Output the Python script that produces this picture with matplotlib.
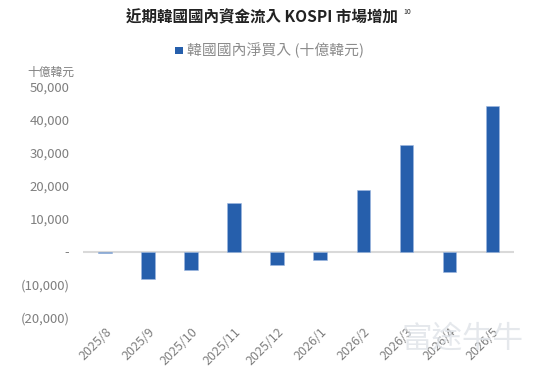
import matplotlib
matplotlib.use("Agg")
import matplotlib.pyplot as plt
from matplotlib.patches import Rectangle

plt.rcParams['font.family'] = ['Noto Sans CJK TC', 'DejaVu Sans']

# data (十億韓元)
months = ['2025/8', '2025/9', '2025/10', '2025/11', '2025/12',
          '2026/1', '2026/2', '2026/3', '2026/4', '2026/5']
net_buy = [-400, -8200, -5500, 14800, -4000, -2700, 18800, 32300, -6200, 44200]
y_ticks = [-20000, -10000, 0, 10000, 20000, 30000, 40000, 50000]

bar_color = '#265FAC'
text_gray = '#7f7f7f'


def fmt(v):
    if v == 0:
        return '-'
    if v < 0:
        return '({:,})'.format(-v)
    return '{:,}'.format(v)


fig = plt.figure(figsize=(5.41, 3.81), dpi=100)
ax = fig.add_axes([0.154, 0.167, 0.796, 0.605])

x = range(len(months))
ax.bar(x, net_buy, width=0.31, color=bar_color, edgecolor='#9db8e0',
       linewidth=0.4, zorder=3)
ax.axhline(0, color='#d9d9d9', linewidth=1.5, zorder=2)

ax.set_xlim(-0.5, len(months) - 0.5)
ax.set_ylim(-20000, 50000)
ax.set_yticks(y_ticks)
ax.set_yticklabels([fmt(v) for v in y_ticks], color=text_gray, fontsize=9.5)
ax.set_xticks(list(x))
ax.set_xticklabels(months, rotation=45, ha='right', rotation_mode='anchor',
                   color=text_gray, fontsize=9)
ax.tick_params(axis='y', length=0, pad=10)
ax.tick_params(axis='x', length=0, pad=6)
for s in ax.spines.values():
    s.set_visible(False)

fig.text(0.485, 0.955, '近期韓國國內資金流入 KOSPI 市場增加', ha='center', va='center',
         fontsize=11.2, fontweight='bold', color='#222222')
fig.text(0.746, 0.968, '10', ha='left', va='center', fontsize=5, color='#222222')

# legend
fig.patches.append(Rectangle((0.324, 0.857), 0.014, 0.02, transform=fig.transFigure,
                             facecolor=bar_color, edgecolor='none'))
fig.text(0.346, 0.867, '韓國國內淨買入 (十億韓元)', ha='left', va='center',
         fontsize=10.7, color='#8c8c8c')

fig.text(0.05, 0.81, '十億韓元', ha='left', va='center', fontsize=8.5, color=text_gray)

# watermark
fig.text(0.855, 0.11, '富途牛牛', ha='center', va='center', fontsize=22,
         color='#dfe3e8', alpha=0.8, zorder=0)

fig.savefig('out.png', dpi=100)
